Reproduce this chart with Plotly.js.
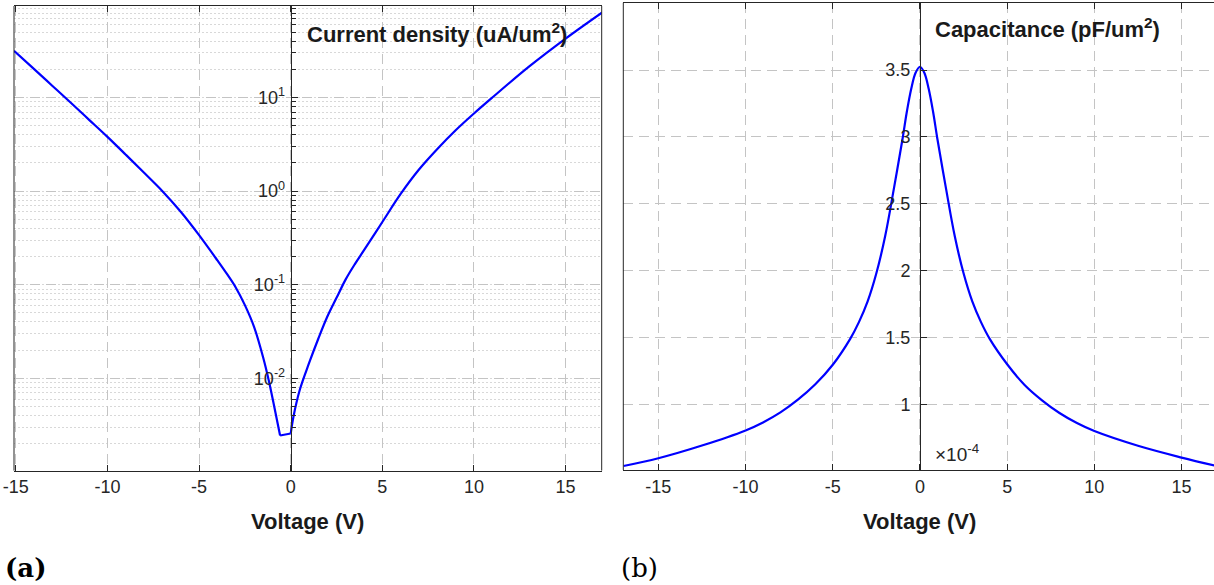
<!DOCTYPE html>
<html>
<head>
<meta charset="utf-8">
<script src="https://cdn.plot.ly/plotly-3.0.1.min.js"></script>
<style>html,body{margin:0;padding:0;background:#fff;overflow:hidden}#chart{width:1214px;height:585px}</style>
</head>
<body>
<div id="chart"></div>
<script>
// (a) Current density (uA/um^2) vs voltage (V)
const leftV = [-15.1, -14, -13, -12, -11, -10, -9, -8, -7, -6, -5, -4, -3.5, -3, -2.5, -2, -1.5, -1.2, -0.9, -0.58];
const leftJ = [31.6, 20.1, 13.3, 8.79, 5.78, 3.80, 2.45, 1.57, 1.0, 0.603, 0.339, 0.182, 0.132, 0.0935, 0.0605, 0.0355, 0.0166, 0.00955, 0.00501, 0.00245];
const rightV = [0, 0.15, 0.5, 1, 1.5, 2, 2.5, 3, 3.5, 4, 5, 6, 7, 8, 9, 10, 11, 13, 15, 17];
const rightJ = [0.00257, 0.00389, 0.00759, 0.0145, 0.0263, 0.0457, 0.0724, 0.114, 0.166, 0.234, 0.468, 0.933, 1.70, 2.82, 4.47, 6.76, 10, 21.4, 42.7, 81.3];

// (b) Capacitance (x1e-4 pF/um^2) vs voltage (V)
const capV = [-17, -15, -12.5, -10, -9, -8, -7, -6, -5, -4, -3.5, -3, -2.5, -2, -1.5, -1, -0.75, -0.5, -0.25, 0, 0.25, 0.5, 0.75, 1, 1.5, 2, 2.5, 3, 3.5, 4, 5, 6, 7, 8, 9, 10, 12.5, 15, 17];
const capC = [0.539, 0.597, 0.692, 0.805, 0.865, 0.94, 1.035, 1.15, 1.296, 1.49, 1.615, 1.77, 1.98, 2.255, 2.61, 2.985, 3.19, 3.36, 3.48, 3.525, 3.48, 3.36, 3.19, 2.985, 2.61, 2.255, 1.98, 1.77, 1.615, 1.49, 1.30, 1.145, 1.03, 0.935, 0.86, 0.80, 0.69, 0.602, 0.539];

// tick labels
const xTickVals = [-15, -10, -5, 0, 5, 10, 15];
const xTickText = ['-15', '-10', '-5', '0', '5', '10', '15'];
const logTickVals = [0.01, 0.1, 1, 10];
const logTickText = ['10<sup>-2</sup>', '10<sup>-1</sup>', '10<sup>0</sup>', '10<sup>1</sup>'];
const capTickVals = [1, 1.5, 2, 2.5, 3, 3.5];
const capTickText = ['1', '1.5', '2', '2.5', '3', '3.5'];

const W = 1214, H = 585;
const blue = '#0000ff';
const axisCol = '#262626';
const gridCol = '#c4c4c4';
const minorGridCol = '#d8d8d8';
const sans = 'Liberation Sans, Arial, Helvetica, sans-serif';
const serif = 'DejaVu Serif, Liberation Serif, serif';

const traces = [
  {x: leftV, y: leftJ, xaxis: 'x', yaxis: 'y', mode: 'lines', line: {color: blue, width: 2.2, shape: 'spline', smoothing: 1}, hoverinfo: 'skip'},
  {x: [leftV[leftV.length - 1], rightV[0]], y: [leftJ[leftJ.length - 1], rightJ[0]], xaxis: 'x', yaxis: 'y', mode: 'lines', line: {color: blue, width: 2.2}, hoverinfo: 'skip'},
  {x: rightV, y: rightJ, xaxis: 'x', yaxis: 'y', mode: 'lines', line: {color: blue, width: 2.2, shape: 'spline', smoothing: 1}, hoverinfo: 'skip'},
  {x: capV, y: capC, xaxis: 'x2', yaxis: 'y2', mode: 'lines', line: {color: blue, width: 2.2, shape: 'spline', smoothing: 1}, hoverinfo: 'skip'}
];

const tickFont = {family: sans, size: 18, color: axisCol};

const xCommon = {
  tickmode: 'array', tickvals: xTickVals, ticktext: xTickText, ticks: 'inside', ticklen: 6, tickcolor: axisCol,
  showline: true, linecolor: axisCol, linewidth: 1, mirror: 'ticks',
  showgrid: true, gridcolor: gridCol, griddash: '10px,6px', gridwidth: 1,
  zeroline: false, tickfont: tickFont
};

const layout = {
  width: W, height: H,
  margin: {l: 0, r: 0, t: 0, b: 0},
  paper_bgcolor: '#ffffff', plot_bgcolor: '#ffffff',
  showlegend: false,
  font: {family: sans, size: 18, color: axisCol},
  xaxis: Object.assign({}, xCommon, {domain: [14 / W, 601.7 / W], range: [-15.1, 16.97], anchor: 'y'}),
  yaxis: {
    domain: [1 - 470.6 / H, 1 - 6 / H], type: 'log', range: [-2.986, 1.978],
    anchor: 'free', position: 290.7 / W, side: 'left',
    tickmode: 'array', tickvals: logTickVals, ticktext: logTickText,
    ticks: 'inside', ticklen: 6, tickcolor: axisCol,
    showline: true, linecolor: axisCol, linewidth: 1,
    showgrid: true, gridcolor: gridCol, griddash: '10px,6px', zeroline: false,
    ticklabelstandoff: 2, tickfont: tickFont,
    minor: {dtick: 'D1', ticks: 'inside', ticklen: 4, tickcolor: axisCol, showgrid: true, gridcolor: minorGridCol, griddash: '2px,2px', gridwidth: 1}
  },
  xaxis2: Object.assign({}, xCommon, {domain: [623.3 / W, 1], range: [-17.01, 16.86], anchor: 'y2'}),
  yaxis2: {
    domain: [1 - 470 / H, 1 - 2.7 / H], range: [0.509, 4.004],
    anchor: 'free', position: 920 / W, side: 'left',
    tickmode: 'array', tickvals: capTickVals, ticktext: capTickText,
    ticks: 'inside', ticklen: 6, tickcolor: axisCol,
    showline: true, linecolor: axisCol, linewidth: 1,
    showgrid: true, gridcolor: gridCol, griddash: '10px,6px', zeroline: false,
    ticklabelstandoff: 6, tickfont: tickFont
  },
  shapes: [
    {type: 'line', xref: 'x domain', yref: 'y domain', x0: 0, x1: 0, y0: 0, y1: 1, line: {color: axisCol, width: 1}},
    {type: 'line', xref: 'x domain', yref: 'y domain', x0: 1, x1: 1, y0: 0, y1: 1, line: {color: axisCol, width: 1}},
    {type: 'line', xref: 'x2 domain', yref: 'y2 domain', x0: 0, x1: 0, y0: 0, y1: 1, line: {color: axisCol, width: 1}}
  ],
  annotations: [
    {text: '<b>Current density (uA/um<sup>2</sup>)</b>', xref: 'paper', yref: 'paper', x: 305 / W, y: 1 - 33 / H, xanchor: 'left', yanchor: 'middle', showarrow: false, font: {family: sans, size: 22, color: '#1a1a1a'}},
    {text: '<b>Capacitance (pF/um<sup>2</sup>)</b>', xref: 'paper', yref: 'paper', x: 933 / W, y: 1 - 28 / H, xanchor: 'left', yanchor: 'middle', showarrow: false, font: {family: sans, size: 22, color: '#1a1a1a'}},
    {text: '<b>Voltage (V)</b>', xref: 'paper', yref: 'paper', x: 307 / W, y: 1 - 521 / H, xanchor: 'center', yanchor: 'middle', showarrow: false, font: {family: sans, size: 22, color: '#1a1a1a'}},
    {text: '<b>Voltage (V)</b>', xref: 'paper', yref: 'paper', x: 919.5 / W, y: 1 - 521 / H, xanchor: 'center', yanchor: 'middle', showarrow: false, font: {family: sans, size: 22, color: '#1a1a1a'}},
    {text: '×10<sup>-4</sup>', xref: 'paper', yref: 'paper', x: 933 / W, y: 1 - 453 / H, xanchor: 'left', yanchor: 'middle', showarrow: false, font: {family: sans, size: 19, color: axisCol}},
    {text: '<b>(a)</b>', xref: 'paper', yref: 'paper', x: 3 / W, y: 1 - 568 / H, xanchor: 'left', yanchor: 'middle', showarrow: false, font: {family: serif, size: 26, color: '#000000'}},
    {text: '(b)', xref: 'paper', yref: 'paper', x: 619 / W, y: 1 - 568 / H, xanchor: 'left', yanchor: 'middle', showarrow: false, font: {family: serif, size: 26, color: '#000000'}}
  ]
};

Plotly.newPlot('chart', traces, layout, {staticPlot: true, displayModeBar: false});
</script>
</body>
</html>
